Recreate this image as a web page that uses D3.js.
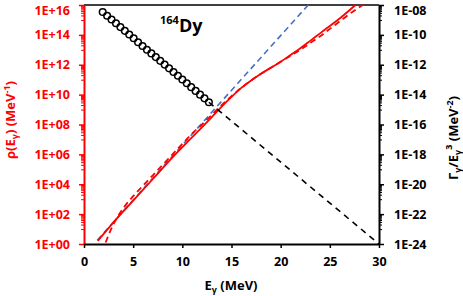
<!DOCTYPE html>
<html><head><meta charset="utf-8">
<script src="https://cdn.jsdelivr.net/npm/d3@7"></script>
<style>
html,body{margin:0;padding:0;background:#fff;}
svg{display:block;font-family:"Open Sans",sans-serif;font-weight:700;}
</style></head>
<body><svg id="c" width="463" height="296"></svg>
<script>
// ---- data ----
const xTicks = [0, 5, 10, 15, 20, 25, 30];
const leftTicks = [1e0, 1e2, 1e4, 1e6, 1e8, 1e10, 1e12, 1e14, 1e16];
const rightTicks = [1e-24, 1e-22, 1e-20, 1e-18, 1e-16, 1e-14, 1e-12, 1e-10, 1e-8];

// level density, solid red
const rhoE   = [1.4, 3, 5, 7, 9, 11, 13, 14, 15, 16, 17, 18, 19, 20, 21, 22, 23, 24, 25, 26, 27, 27.6];
const rhoVal = [1.6, 28, 794, 2.24e4, 6.3e5, 1.41e7, 3.16e8, 1.58e9, 7.08e9, 2.82e10, 8.91e10, 2.51e11, 6.31e11, 1.58e12, 4.47e12, 1.26e13, 3.98e13, 1.26e14, 3.98e14, 1.26e15, 4.47e15, 1e16];
// level density, dashed red
const rho2E   = [2.2, 2.9, 3.4, 4, 5, 6, 7, 8, 9, 10, 11, 12, 13, 14, 15, 16, 17, 18, 19, 20, 21, 22, 23, 24, 25, 26, 27, 28, 28.35];
const rho2Val = [1.26, 15.8, 63, 251, 1585, 7.94e3, 3.98e4, 2e5, 1e6, 5.01e6, 2.51e7, 1e8, 4.47e8, 2e9, 7.94e9, 2.82e10, 8.91e10, 2.51e11, 6.31e11, 1.58e12, 3.98e12, 1e13, 2.82e13, 7.94e13, 2.51e14, 7.94e14, 2.51e15, 7.08e15, 1e16];
// constant-temperature density, dashed blue
const ctE   = [1.35, 13.5, 22.8];
const ctVal = [1.8, 1.55e9, 1e16];
// gamma strength points (right axis)
const gsfE   = [1.9, 2.35, 2.8, 3.25, 3.7, 4.15, 4.6, 5.05, 5.5, 5.95, 6.4, 6.85, 7.3, 7.75, 8.2, 8.65, 9.1, 9.55, 10.0, 10.45, 10.9, 11.35, 11.8, 12.25, 12.7];
const gsfVal = [3.39e-9, 1.91e-9, 1.07e-9, 6.03e-10, 3.31e-10, 1.86e-10, 1.05e-10, 5.89e-11, 3.24e-11, 1.82e-11, 1.02e-11, 5.75e-12, 3.24e-12, 1.82e-12, 1.02e-12, 5.75e-13, 3.24e-13, 1.82e-13, 1.02e-13, 5.75e-14, 3.16e-14, 1.78e-14, 1.0e-14, 5.62e-15, 3.09e-15];
// extrapolation, dashed black
const extE   = [12.7, 30];
const extVal = [3.09e-15, 1e-24];

// ---- layout ----
const svg = d3.select("#c");
const L = 84, R = 379, T = 5, B = 244;
const x = d3.scaleLinear().domain([0, 30]).range([L, R]);
const yL = d3.scaleLog().domain([1, 1e16]).range([B, T]);
const yR = d3.scaleLog().domain([1e-24, 1e-8]).range([B, T]);
const RED = "#ff0000", BLUE = "#4472c4";
const FONT = "Open Sans";

function fmtE(d) {
  const e = Math.round(Math.log10(d));
  const a = Math.abs(e);
  return "1E" + (e < 0 ? "-" : "+") + (a < 10 ? "0" + a : a);
}
function minorFor(domain) {
  const out = [];
  const lo = Math.round(Math.log10(domain[0])), hi = Math.round(Math.log10(domain[1]));
  for (let p = lo; p < hi; p += 2)
    for (let k = 10; k <= 90; k += 10) out.push(k * Math.pow(10, p));
  return out;
}

// top border
svg.append("line").attr("x1", L).attr("x2", R).attr("y1", T).attr("y2", T)
  .attr("stroke", "#000").attr("stroke-width", 1.5);

// series
const lineL = (xs, ys) => d3.line().x((d, i) => x(xs[i])).y((d, i) => yL(ys[i])).curve(d3.curveMonotoneX)(xs);
const lineR = (xs, ys) => d3.line().x((d, i) => x(xs[i])).y((d, i) => yR(ys[i]))(xs);

const plot = svg.append("g");
plot.append("path").attr("d", lineL(ctE, ctVal)).attr("fill", "none")
  .attr("stroke", BLUE).attr("stroke-width", 1.6).attr("stroke-dasharray", "6,4");
plot.append("path").attr("d", lineL(rho2E, rho2Val)).attr("fill", "none")
  .attr("stroke", RED).attr("stroke-width", 1.8).attr("stroke-dasharray", "6,4");
plot.append("path").attr("d", lineL(rhoE, rhoVal)).attr("fill", "none")
  .attr("stroke", RED).attr("stroke-width", 1.8);
plot.append("path").attr("d", lineR(extE, extVal)).attr("fill", "none")
  .attr("stroke", "#000").attr("stroke-width", 1.6).attr("stroke-dasharray", "6,5");
plot.selectAll("circle.g").data(gsfE).join("circle").attr("class", "g")
  .attr("cx", (d) => x(d)).attr("cy", (d, i) => yR(gsfVal[i])).attr("r", 3.3)
  .attr("fill", "none").attr("stroke", "#000").attr("stroke-width", 1.5);

function styleText(g, color) {
  g.selectAll("text").attr("fill", color).style("font-size", "12.5px")
    .style("font-family", FONT).style("font-weight", 700);
}

// left axis (red)
const gLm = svg.append("g").attr("transform", `translate(${L},0)`)
  .call(d3.axisLeft(yL).tickValues(minorFor(yL.domain())).tickSize(3).tickFormat(""));
gLm.select(".domain").remove();
gLm.selectAll("line").attr("stroke", RED).attr("stroke-width", 1);
const gL = svg.append("g").attr("transform", `translate(${L},0)`)
  .call(d3.axisLeft(yL).tickValues(leftTicks).tickSize(5).tickSizeOuter(0).tickPadding(9).tickFormat(fmtE));
gL.select(".domain").attr("stroke", RED).attr("stroke-width", 2);
gL.selectAll("line").attr("stroke", RED).attr("stroke-width", 1.5);
styleText(gL, RED);
gL.selectAll("text").filter((d) => d === 1e16).attr("dy", "0.75em");

// right axis (black)
const gRm = svg.append("g").attr("transform", `translate(${R},0)`)
  .call(d3.axisRight(yR).tickValues(minorFor(yR.domain())).tickSize(3).tickFormat(""));
gRm.select(".domain").remove();
gRm.selectAll("line").attr("stroke", "#000").attr("stroke-width", 1);
const gR = svg.append("g").attr("transform", `translate(${R},0)`)
  .call(d3.axisRight(yR).tickValues(rightTicks).tickSize(5).tickSizeOuter(0).tickPadding(10).tickFormat(fmtE));
gR.select(".domain").attr("stroke", "#000").attr("stroke-width", 2);
gR.selectAll("line").attr("stroke", "#000").attr("stroke-width", 1.5);
styleText(gR, "#000");
gR.selectAll("text").filter((d) => d === 1e-8).attr("dy", "0.75em");

// bottom axis
const gX = svg.append("g").attr("transform", `translate(0,${B})`)
  .call(d3.axisBottom(x).tickValues(xTicks).tickSize(4).tickSizeOuter(0).tickPadding(9).tickFormat(d3.format("d")));
gX.select(".domain").attr("stroke", "#000").attr("stroke-width", 2);
gX.selectAll("line").attr("stroke", "#000").attr("stroke-width", 1.5);
styleText(gX, "#000");

// axis titles
const xt = svg.append("text").attr("x", 231).attr("y", 290).attr("text-anchor", "middle")
  .attr("font-size", 13).attr("fill", "#000");
xt.append("tspan").text("E");
xt.append("tspan").attr("font-size", 9).attr("dy", 3).text("γ");
xt.append("tspan").attr("dy", -3).text(" (MeV)");

const lt = svg.append("text").attr("transform", "translate(15,120) rotate(-90)")
  .attr("text-anchor", "middle").attr("font-size", 13).attr("fill", RED);
lt.append("tspan").text("ρ(E");
lt.append("tspan").attr("font-size", 9).attr("dy", 3).text("γ");
lt.append("tspan").attr("dy", -3).text(") (MeV");
lt.append("tspan").attr("font-size", 9).attr("dy", -5).text("-1");
lt.append("tspan").attr("dy", 5).text(")");

const rt = svg.append("text").attr("transform", "translate(458,138) rotate(-90)")
  .attr("text-anchor", "middle").attr("font-size", 13).attr("fill", "#000");
rt.append("tspan").text("Γ");
rt.append("tspan").attr("font-size", 9).attr("dy", 3).text("γ");
rt.append("tspan").attr("dy", -3).text("/E");
rt.append("tspan").attr("font-size", 9).attr("dy", 3).text("γ");
rt.append("tspan").attr("font-size", 9).attr("dy", -9).text("3");
rt.append("tspan").attr("dy", 6).text(" (MeV");
rt.append("tspan").attr("font-size", 9).attr("dy", -5).text("-2");
rt.append("tspan").attr("dy", 5).text(")");

// nucleus label
const nl = svg.append("text").attr("x", 160).attr("y", 32).attr("fill", "#000");
nl.append("tspan").attr("font-size", 11).attr("dy", -8).text("164");
nl.append("tspan").attr("font-size", 18).attr("dy", 8).text("Dy");
</script>
</body></html>
